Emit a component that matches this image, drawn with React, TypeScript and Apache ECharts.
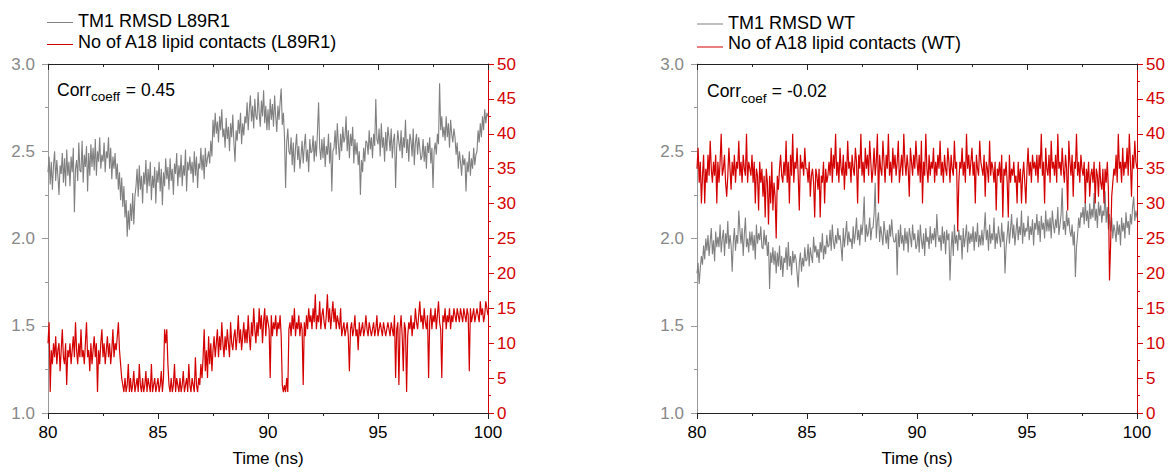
import React, { useEffect, useRef } from "react";
import * as echarts from "echarts";

const FONT = "'Liberation Sans', Arial, Helvetica, sans-serif";
const GRAY = "#808080";
const RED = "#d40000";

// sampling grid: 80 ns to 100 ns every 0.05 ns
const T_START = 80;
const T_STEP = 0.05;

// TM1 RMSD L89R1 (nm), one row per 0.5 ns
const rmsdL89R1 = [
  2.38, 2.47, 2.31, 2.44, 2.28, 2.42, 2.50, 2.33, 2.45, 2.36,
  2.25, 2.42, 2.37, 2.49, 2.32, 2.46, 2.30, 2.51, 2.36, 2.44,
  2.30, 2.47, 2.38, 2.52, 2.15, 2.40, 2.45, 2.33, 2.55, 2.39,
  2.38, 2.56, 2.32, 2.48, 2.41, 2.53, 2.27, 2.49, 2.36, 2.54,
  2.41, 2.52, 2.39, 2.57, 2.36, 2.50, 2.44, 2.58, 2.40, 2.48,
  2.44, 2.55, 2.38, 2.50, 2.46, 2.58, 2.40, 2.52, 2.34, 2.47,
  2.40, 2.49, 2.34, 2.43, 2.28, 2.38, 2.22, 2.35, 2.18, 2.30,
  2.12, 2.22, 2.01, 2.16, 2.05, 2.20, 2.10, 2.26, 2.08, 2.24,
  2.30, 2.40, 2.24, 2.42, 2.28, 2.36, 2.20, 2.38, 2.31, 2.45,
  2.26, 2.40, 2.30, 2.44, 2.22, 2.36, 2.29, 2.41, 2.20, 2.39,
  2.32, 2.44, 2.27, 2.40, 2.19, 2.38, 2.30, 2.46, 2.34, 2.41,
  2.28, 2.46, 2.33, 2.40, 2.25, 2.43, 2.37, 2.49, 2.30, 2.42,
  2.35, 2.48, 2.30, 2.42, 2.36, 2.51, 2.27, 2.44, 2.39, 2.47,
  2.37, 2.44, 2.32, 2.50, 2.36, 2.47, 2.29, 2.43, 2.40, 2.52,
  2.39, 2.48, 2.34, 2.52, 2.41, 2.46, 2.50, 2.43, 2.56, 2.47,
  2.68, 2.58, 2.72, 2.60, 2.67, 2.55, 2.70, 2.62, 2.74, 2.58,
  2.63, 2.52, 2.69, 2.57, 2.64, 2.50, 2.66, 2.58, 2.71, 2.55,
  2.44, 2.62, 2.56, 2.68, 2.60, 2.72, 2.54, 2.66, 2.59, 2.70,
  2.66, 2.78, 2.62, 2.74, 2.82, 2.67, 2.76, 2.63, 2.80, 2.70,
  2.68, 2.84, 2.72, 2.64, 2.79, 2.70, 2.85, 2.66, 2.76, 2.62,
  2.74, 2.62, 2.80, 2.68, 2.77, 2.64, 2.82, 2.70, 2.61, 2.76,
  2.68, 2.78, 2.86, 2.65, 2.72, 2.58, 2.29, 2.55, 2.63, 2.50,
  2.48, 2.58, 2.42, 2.55, 2.38, 2.52, 2.60, 2.45, 2.53, 2.40,
  2.47, 2.56, 2.43, 2.53, 2.60, 2.44, 2.51, 2.38, 2.57, 2.49,
  2.50, 2.59, 2.44, 2.56, 2.47, 2.62, 2.78, 2.52, 2.45, 2.57,
  2.46, 2.58, 2.41, 2.53, 2.48, 2.60, 2.43, 2.55, 2.27, 2.50,
  2.52, 2.62, 2.48, 2.66, 2.54, 2.45, 2.60, 2.50, 2.64, 2.55,
  2.58, 2.70, 2.50, 2.62, 2.46, 2.60, 2.53, 2.64, 2.43, 2.57,
  2.48, 2.55, 2.42, 2.50, 2.25, 2.45, 2.38, 2.52, 2.44, 2.56,
  2.55, 2.48, 2.62, 2.51, 2.58, 2.46, 2.60, 2.53, 2.80, 2.57,
  2.54, 2.63, 2.47, 2.66, 2.52, 2.58, 2.44, 2.61, 2.50, 2.64,
  2.58, 2.50, 2.63, 2.46, 2.56, 2.60, 2.29, 2.52, 2.62, 2.55,
  2.50, 2.62, 2.46, 2.58, 2.52, 2.68, 2.49, 2.57, 2.44, 2.60,
  2.56, 2.47, 2.63, 2.42, 2.55, 2.60, 2.48, 2.58, 2.52, 2.45,
  2.47, 2.57, 2.44, 2.53, 2.40, 2.55, 2.49, 2.58, 2.43, 2.52,
  2.29, 2.50, 2.55, 2.48, 2.60, 2.54, 2.89, 2.62, 2.70, 2.58,
  2.64, 2.56, 2.70, 2.58, 2.66, 2.52, 2.68, 2.60, 2.55, 2.63,
  2.58, 2.48, 2.55, 2.40, 2.50, 2.44, 2.36, 2.48, 2.42, 2.46,
  2.27, 2.44, 2.38, 2.50, 2.36, 2.46, 2.40, 2.52, 2.42, 2.48,
  2.50, 2.62, 2.55, 2.66, 2.58, 2.70, 2.62, 2.74, 2.66, 2.72,
  2.70,
];

// No of A18 lipid contacts (L89R1)
const contactsL89R1 = [
  10, 13, 3, 9, 7, 10, 8, 11, 7, 9,
  10, 6, 9, 12, 8, 7, 10, 4, 9, 8,
  10, 7, 9, 11, 8, 13, 9, 7, 10, 8,
  12, 8, 9, 7, 10, 13, 8, 9, 6, 10,
  7, 9, 11, 8, 10, 3, 9, 7, 10, 12,
  8, 10, 7, 9, 11, 8, 10, 7, 9, 12,
  8, 10, 9, 11, 13, 9, 7, 5, 4, 3,
  5, 3, 4, 7, 3, 5, 3, 4, 6, 3,
  4, 5, 3, 7, 4, 3, 5, 3, 4, 6,
  3, 5, 4, 3, 7, 3, 4, 5, 3, 4,
  5, 3, 4, 6, 3, 5, 12, 10, 12, 7,
  4, 3, 5, 3, 4, 7, 3, 5, 4, 3,
  5, 3, 4, 6, 3, 4, 5, 3, 7, 4,
  3, 5, 4, 3, 8, 4, 3, 5, 4, 7,
  5, 8, 12, 6, 9, 5, 11, 7, 10, 6,
  9, 11, 8, 10, 12, 8, 11, 9, 13, 10,
  8, 11, 9, 12, 10, 8, 13, 10, 9, 11,
  12, 9, 11, 14, 10, 12, 9, 11, 13, 10,
  12, 10, 14, 11, 9, 13, 11, 15, 12, 10,
  13, 11, 15, 12, 14, 10, 13, 15, 11, 14,
  13, 12, 5, 14, 11, 13, 12, 14, 11, 13,
  12, 14, 11, 4, 3, 4, 3, 5, 3, 12,
  13, 11, 14, 12, 15, 11, 13, 12, 14, 11,
  13, 12, 4, 13, 11, 14, 12, 15, 13, 14,
  12, 15, 13, 17, 12, 14, 13, 16, 12, 14,
  15, 13, 12, 14, 17, 13, 15, 12, 14, 16,
  13, 15, 12, 14, 13, 12, 15, 11, 12, 13,
  11, 12, 13, 11, 6, 12, 13, 11, 12, 14,
  11, 12, 9, 13, 11, 12, 13, 11, 12, 14,
  12, 11, 13, 12, 11, 12, 13, 11, 12, 14,
  11, 12, 13, 12, 11, 13, 12, 11, 12, 13,
  12, 11, 13, 12, 11, 14, 5, 12, 13, 4,
  12, 14, 11, 6, 13, 12, 3, 11, 13, 12,
  14, 11, 13, 12, 15, 13, 12, 14, 16, 13,
  14, 12, 15, 13, 12, 14, 5, 13, 15, 12,
  14, 13, 15, 12, 14, 16, 13, 12, 5, 14,
  13, 15, 12, 14, 13, 15, 12, 14, 13, 15,
  14, 13, 15, 14, 13, 15, 14, 13, 15, 14,
  13, 15, 14, 6, 15, 13, 14, 15, 13, 14,
  15, 14, 13, 16, 14, 15, 13, 14, 16, 15,
  14,
];

// TM1 RMSD WT (nm)
const rmsdWT = [
  1.80, 1.86, 1.74, 1.83, 1.90, 1.85, 1.96, 1.88, 2.00, 1.93,
  2.02, 1.90, 1.98, 2.06, 1.91, 1.99, 1.87, 2.04, 1.95, 2.01,
  1.95, 2.08, 1.92, 2.00, 2.05, 1.90, 2.03, 1.97, 2.10, 1.94,
  2.02, 1.96, 1.81, 1.98, 2.06, 1.93, 2.02, 1.97, 2.16, 2.05,
  1.97, 2.06, 1.90, 2.02, 2.12, 1.95, 2.00, 1.92, 2.04, 1.96,
  2.04, 1.93, 2.02, 1.88, 2.08, 1.97, 2.03, 1.99, 2.07, 1.95,
  1.94, 2.05, 1.96, 2.02, 1.90, 1.98, 1.71, 1.92, 1.86, 1.95,
  1.85, 1.93, 1.80, 1.92, 1.84, 1.96, 1.82, 1.90, 1.78, 1.89,
  1.86, 1.95, 1.82, 1.98, 1.84, 1.90, 1.79, 1.93, 1.86, 1.91,
  1.88, 1.80, 1.72, 1.86, 1.92, 1.81, 1.89, 1.84, 1.95, 1.87,
  1.88, 1.97, 1.84, 1.95, 1.90, 1.86, 2.01, 1.92, 1.96, 1.89,
  1.94, 1.86, 1.98, 1.92, 2.03, 1.88, 1.96, 1.91, 2.02, 1.95,
  1.96, 2.05, 1.93, 2.08, 1.98, 1.94, 2.02, 1.97, 2.06, 1.99,
  2.02, 1.95, 1.87, 2.06, 1.95, 2.02, 2.10, 1.96, 2.04, 1.98,
  2.00, 1.94, 2.07, 1.97, 2.03, 2.12, 1.99, 2.05, 1.96, 2.08,
  2.02, 2.10, 2.24, 1.98, 2.08, 2.01, 2.04, 2.12, 1.99, 2.06,
  2.06, 2.14, 2.32, 2.00, 2.10, 2.15, 1.98, 2.07, 2.02, 1.96,
  2.10, 2.03, 1.97, 2.05, 1.94, 2.08, 2.01, 2.11, 2.02, 1.98,
  1.98, 2.03, 1.79, 2.05, 1.95, 2.08, 1.97, 2.02, 1.93, 2.06,
  1.97, 2.04, 1.92, 2.06, 2.01, 1.95, 2.08, 1.99, 2.03, 1.94,
  1.96, 2.05, 1.92, 2.08, 1.99, 1.94, 2.03, 1.90, 2.06, 1.98,
  2.01, 1.94, 2.07, 1.97, 2.03, 1.99, 2.06, 1.95, 2.14, 2.02,
  1.98, 2.02, 1.93, 2.07, 1.97, 2.04, 1.91, 2.05, 1.99, 2.03,
  1.76, 1.94, 2.04, 1.90, 2.08, 1.97, 2.02, 1.93, 2.05, 1.99,
  2.02, 1.88, 2.06, 1.95, 2.01, 2.08, 1.92, 2.04, 1.97, 2.03,
  1.98, 2.07, 1.93, 2.04, 1.98, 2.09, 1.95, 2.02, 1.96, 2.05,
  1.96, 2.04, 2.15, 1.99, 2.05, 1.93, 2.08, 1.97, 2.03, 1.99,
  2.12, 1.94, 2.03, 1.97, 2.07, 2.01, 1.95, 2.09, 1.98, 2.04,
  1.80, 1.95, 2.02, 2.10, 1.97, 2.05, 2.14, 2.00, 2.08, 1.96,
  2.04, 2.12, 1.99, 2.07, 2.02, 2.16, 1.97, 2.09, 2.01, 2.06,
  2.04, 2.13, 1.99, 2.07, 2.02, 2.11, 1.96, 2.09, 2.05, 2.14,
  2.02, 2.10, 1.98, 2.13, 2.05, 2.09, 2.00, 2.16, 2.04, 2.11,
  2.04, 2.12, 2.00, 2.16, 2.08, 2.03, 2.11, 2.06, 2.18, 2.02,
  2.08, 2.14, 2.29, 2.05, 2.10, 2.02, 2.16, 2.07, 2.12, 2.04,
  2.01, 2.08, 1.96, 2.04, 1.78, 1.95, 2.02, 2.12, 2.06, 2.15,
  2.12, 2.18, 2.08, 2.22, 2.10, 2.16, 2.06, 2.20, 2.11, 2.17,
  2.12, 2.26, 2.10, 2.17, 2.06, 2.21, 2.13, 2.19, 2.09, 2.16,
  2.13, 2.27, 2.09, 2.18, 2.05, 2.14, 2.04, 2.12, 2.00, 2.08,
  2.04, 1.98, 2.10, 2.02, 2.08, 1.96, 2.12, 2.04, 2.09, 2.00,
  2.15, 2.06, 2.10, 2.02, 2.14, 2.08, 2.18, 2.24, 2.10, 2.16,
  2.12,
];

// No of A18 lipid contacts (WT)
const contactsWT = [
  35, 38, 33, 36, 30, 34, 37, 30, 35, 33,
  37, 34, 39, 35, 33, 36, 34, 37, 30, 36,
  33, 36, 40, 34, 35, 37, 33, 31, 34, 38,
  35, 32, 36, 34, 37, 33, 36, 35, 39, 34,
  36, 33, 37, 35, 34, 40, 33, 36, 35, 34,
  37, 33, 36, 30, 35, 34, 29, 36, 33, 35,
  31, 34, 28, 35, 33, 27, 34, 30, 36, 29,
  33, 31, 25, 34, 32, 35, 37, 34, 33, 36,
  34, 39, 33, 36, 30, 37, 34, 40, 33, 36,
  35, 38, 34, 29, 37, 35, 36, 34, 38, 35,
  35, 33, 36, 31, 34, 35, 33, 28, 35, 34,
  32, 35, 28, 34, 33, 36, 30, 35, 33, 34,
  36, 34, 38, 33, 37, 35, 40, 34, 36, 33,
  38, 35, 34, 37, 32, 36, 34, 39, 35, 36,
  33, 37, 35, 34, 38, 36, 30, 37, 35, 40,
  34, 36, 33, 38, 35, 37, 34, 39, 36, 33,
  35, 38, 34, 36, 40, 30, 37, 35, 34, 39,
  36, 33, 37, 35, 40, 34, 36, 33, 38, 35,
  37, 34, 36, 39, 33, 35, 37, 34, 40, 36,
  34, 37, 35, 31, 38, 36, 34, 37, 35, 39,
  36, 34, 37, 33, 39, 30, 36, 34, 40, 35,
  33, 37, 34, 36, 35, 38, 33, 36, 34, 37,
  35, 39, 34, 36, 33, 37, 35, 34, 38, 36,
  33, 37, 35, 34, 39, 35, 36, 26, 33, 36,
  35, 38, 34, 36, 33, 40, 35, 37, 34, 36,
  38, 34, 36, 30, 37, 35, 34, 39, 36, 35,
  34, 37, 31, 36, 35, 33, 39, 34, 36, 35,
  33, 36, 29, 35, 34, 36, 33, 37, 28, 35,
  34, 36, 33, 28, 37, 33, 35, 34, 36, 33,
  34, 30, 36, 33, 35, 30, 34, 36, 33, 30,
  35, 38, 34, 36, 33, 37, 35, 36, 34, 37,
  33, 37, 35, 40, 34, 36, 30, 38, 35, 34,
  37, 33, 39, 35, 36, 34, 37, 33, 40, 35,
  36, 34, 38, 35, 33, 37, 35, 29, 39, 36,
  34, 37, 31, 36, 35, 40, 34, 36, 33, 37,
  35, 34, 36, 30, 35, 33, 36, 31, 34, 35,
  33, 36, 30, 35, 34, 31, 36, 33, 32, 35,
  30, 35, 33, 36, 32, 19, 24, 31, 33, 35,
  34, 37, 33, 40, 35, 36, 33, 38, 34, 36,
  35, 38, 34, 40, 36, 31, 37, 35, 39, 36,
  35,
];

const xTicks = { min: 80, max: 100, interval: 5 };
const leftTicks = { min: 1, max: 3, interval: 0.5 };
const rightTicks = { min: 0, max: 50, interval: 5 };

const legendL89R1 = ["TM1 RMSD L89R1", "No of A18 lipid contacts (L89R1)"];
const legendWT = ["TM1 RMSD WT", "No of A18 lipid contacts (WT)"];
const corrL89R1 = { sub: "coeff", value: " = 0.45" };
const corrWT = { sub: "coef", value: " = -0.02" };

const pair = (arr: number[]) => arr.map((v, i) => [+(T_START + i * T_STEP).toFixed(2), v]);

export default function App() {
  const ref = useRef<HTMLDivElement>(null);
  useEffect(() => {
    if (!ref.current) return;
    const chart = echarts.init(ref.current, undefined, { renderer: "svg" });
    const grids = [
      { left: 48, top: 64, width: 440, height: 354 },
      { left: 697, top: 64, width: 440, height: 354 },
    ];
    const xAxes: any[] = [];
    const yAxes: any[] = [];
    grids.forEach((_, g) => {
      xAxes.push({
        gridIndex: g, type: "value", position: "bottom", ...xTicks,
        axisLine: { show: true, onZero: false, lineStyle: { color: "#222", width: 1 } },
        axisTick: { show: true, inside: false, length: 6, lineStyle: { color: "#222" } },
        minorTick: { show: true, splitNumber: 2, length: 3, lineStyle: { color: "#222" } },
        splitLine: { show: false },
        axisLabel: { fontSize: 17, color: "#000", margin: 11, fontFamily: FONT },
        name: "Time (ns)", nameLocation: "middle", nameGap: 37,
        nameTextStyle: { fontSize: 17, color: "#000", fontFamily: FONT },
      });
      xAxes.push({
        gridIndex: g, type: "value", position: "top", ...xTicks,
        axisLine: { show: true, onZero: false, lineStyle: { color: "#222", width: 1 } },
        axisTick: { show: true, inside: true, length: 6, lineStyle: { color: "#222" } },
        minorTick: { show: true, splitNumber: 2, length: 3, lineStyle: { color: "#222" } },
        splitLine: { show: false },
        axisLabel: { show: false },
      });
      yAxes.push({
        gridIndex: g, type: "value", position: "left", ...leftTicks,
        axisLine: { show: true, onZero: false, lineStyle: { color: "#999", width: 1 } },
        axisTick: { show: true, inside: false, length: 6, lineStyle: { color: "#999" } },
        minorTick: { show: true, splitNumber: 2, length: 3, lineStyle: { color: "#999" } },
        splitLine: { show: false },
        axisLabel: { fontSize: 17, color: "#888", margin: 13, fontFamily: FONT, formatter: (v: number) => v.toFixed(1) },
      });
      yAxes.push({
        gridIndex: g, type: "value", position: "right", ...rightTicks,
        axisLine: { show: true, onZero: false, lineStyle: { color: RED, width: 1 } },
        axisTick: { show: true, inside: false, length: 6, lineStyle: { color: RED } },
        minorTick: { show: true, splitNumber: 2, length: 3, lineStyle: { color: RED } },
        splitLine: { show: false },
        axisLabel: { fontSize: 17, color: RED, margin: 9, fontFamily: FONT },
      });
    });

    const lineSeries = (data: number[], xi: number, yi: number, color: string, width: number) => ({
      type: "line", xAxisIndex: xi, yAxisIndex: yi, data: pair(data), symbol: "none",
      lineStyle: { color, width }, itemStyle: { color }, z: 2,
    });

    const legendBlock = (labels: string[], x0: number, ys: number[], lys: number[]) => {
      const out: any[] = [];
      [GRAY, RED].forEach((c, k) => {
        out.push({ type: "line", shape: { x1: x0, y1: lys[k], x2: x0 + 26, y2: lys[k] }, style: { stroke: c, lineWidth: 1 } });
        out.push({ type: "text", x: x0 + 31, y: ys[k], style: { text: labels[k], fontSize: 18, fontFamily: FONT, fill: "#000", verticalAlign: "middle" } });
      });
      return out;
    };
    const corrBlock = (c: { sub: string; value: string }, x0: number, y: number, subW: number) => [
      { type: "text", x: x0, y, style: { text: "Corr", fontSize: 17.5, fontFamily: FONT, fill: "#000", verticalAlign: "middle" } },
      { type: "text", x: x0 + 34, y: y + 7, style: { text: c.sub, fontSize: 13.5, fontFamily: FONT, fill: "#000", verticalAlign: "middle" } },
      { type: "text", x: x0 + 34 + subW, y, style: { text: c.value, fontSize: 17.5, fontFamily: FONT, fill: "#000", verticalAlign: "middle" } },
    ];

    chart.setOption({
      animation: false,
      backgroundColor: "#fff",
      textStyle: { fontFamily: FONT },
      grid: grids,
      xAxis: xAxes,
      yAxis: yAxes,
      series: [
        lineSeries(rmsdL89R1, 0, 0, GRAY, 1.1),
        lineSeries(contactsL89R1, 0, 1, RED, 1.2),
        lineSeries(rmsdWT, 2, 2, GRAY, 1.1),
        lineSeries(contactsWT, 2, 3, RED, 1.2),
      ],
      graphic: [
        ...legendBlock(legendL89R1, 47, [21, 41.5], [22.5, 44.5]),
        ...legendBlock(legendWT, 697, [22.5, 42.5], [24, 47]),
        ...corrBlock(corrL89R1, 57, 89.5, 30),
        ...corrBlock(corrWT, 707, 91, 26),
      ],
    });
    return () => chart.dispose();
  }, []);
  return <div ref={ref} style={{ position: "fixed", left: 0, top: 0, width: 1171, height: 472 }} />;
}
